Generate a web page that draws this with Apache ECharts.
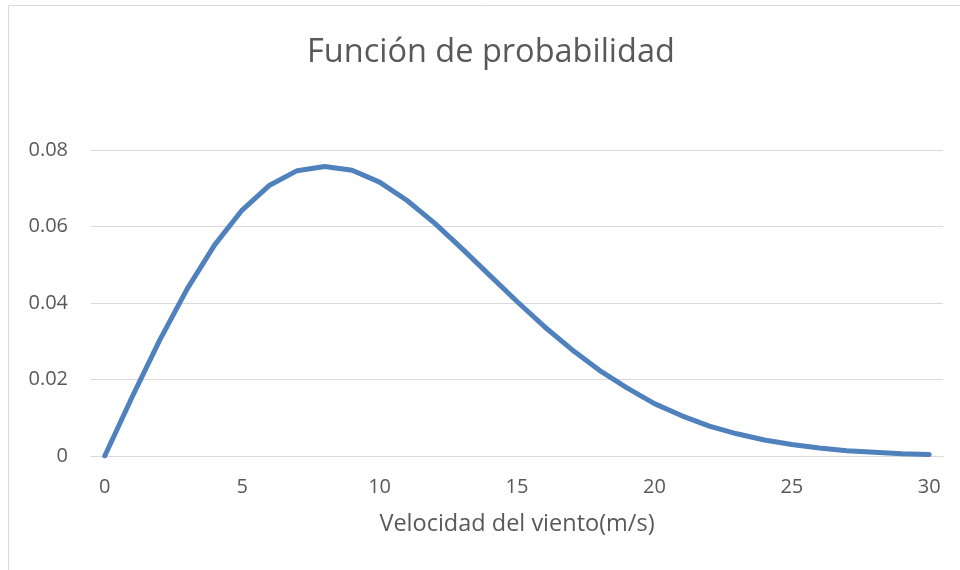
<!DOCTYPE html>
<html><head><meta charset="utf-8">
<script src="https://cdn.jsdelivr.net/npm/echarts@6/dist/echarts.min.js"></script>
<style>html,body{margin:0;padding:0;background:#fff}#c{width:960px;height:570px}</style>
</head><body><div id="c"></div>
<script>
const speeds = ["0","1","2","3","4","5","6","7","8","9","10","11","12","13","14","15","16","17","18","19","20","21","22","23","24","25","26","27","28","29","30"];
const probability = [0, 0.0155, 0.0303, 0.0437, 0.0552, 0.0643, 0.0708, 0.0746, 0.0757, 0.0747, 0.0716, 0.0668, 0.0609, 0.0542, 0.0473, 0.0404, 0.0338, 0.0278, 0.0224, 0.0178, 0.0137, 0.0105, 0.0078, 0.0058, 0.0042, 0.0030, 0.0021, 0.0014, 0.0010, 0.0006, 0.0004];
const yTicks = [0, 0.02, 0.04, 0.06, 0.08];
const titleText = "Función de probabilidad";
const xName = "Velocidad del viento(m/s)";

const chart = echarts.init(document.getElementById('c'));
const font = '"Open Sans", "Noto Sans", sans-serif';
chart.setOption({
  animation: false,
  backgroundColor: '#fff',
  graphic: [{type:'rect', shape:{x:8.5, y:5.5, width:1000, height:1000}, style:{fill:'none', stroke:'#d9d9d9', lineWidth:1}, silent:true}],
  title: {text: titleText, left: 302, top: 31, textStyle:{fontFamily: font, fontSize: 32.5, fontWeight: 'normal', color:'#595959'}},
  grid: {left: 91, right: 17, top: 150, bottom: 114},
  xAxis: {
    type: 'category', data: speeds, boundaryGap: true,
    name: xName, nameLocation: 'middle', nameGap: 56,
    nameTextStyle: {fontFamily: font, fontSize: 23.5, color:'#595959'},
    axisLine: {lineStyle:{color:'#d9d9d9', width:1}},
    axisTick: {show:false},
    axisLabel: {interval: 4, margin: 21, fontFamily: font, fontSize: 20, color:'#595959'}
  },
  yAxis: {
    type: 'value', min: yTicks[0], max: yTicks[yTicks.length-1], interval: 0.02,
    axisLine: {show:false}, axisTick:{show:false},
    splitLine: {lineStyle:{color:'#d9d9d9', width:1}},
    axisLabel: {margin: 23, fontFamily: font, fontSize: 20, color:'#595959', formatter: v => String(+v.toFixed(2))}
  },
  series: [{type:'line', data: probability, showSymbol:false, symbol:'none', smooth:false,
    lineStyle:{color:'#4f81bd', width:5, cap:'round', join:'round'}}]
});
</script></body></html>
